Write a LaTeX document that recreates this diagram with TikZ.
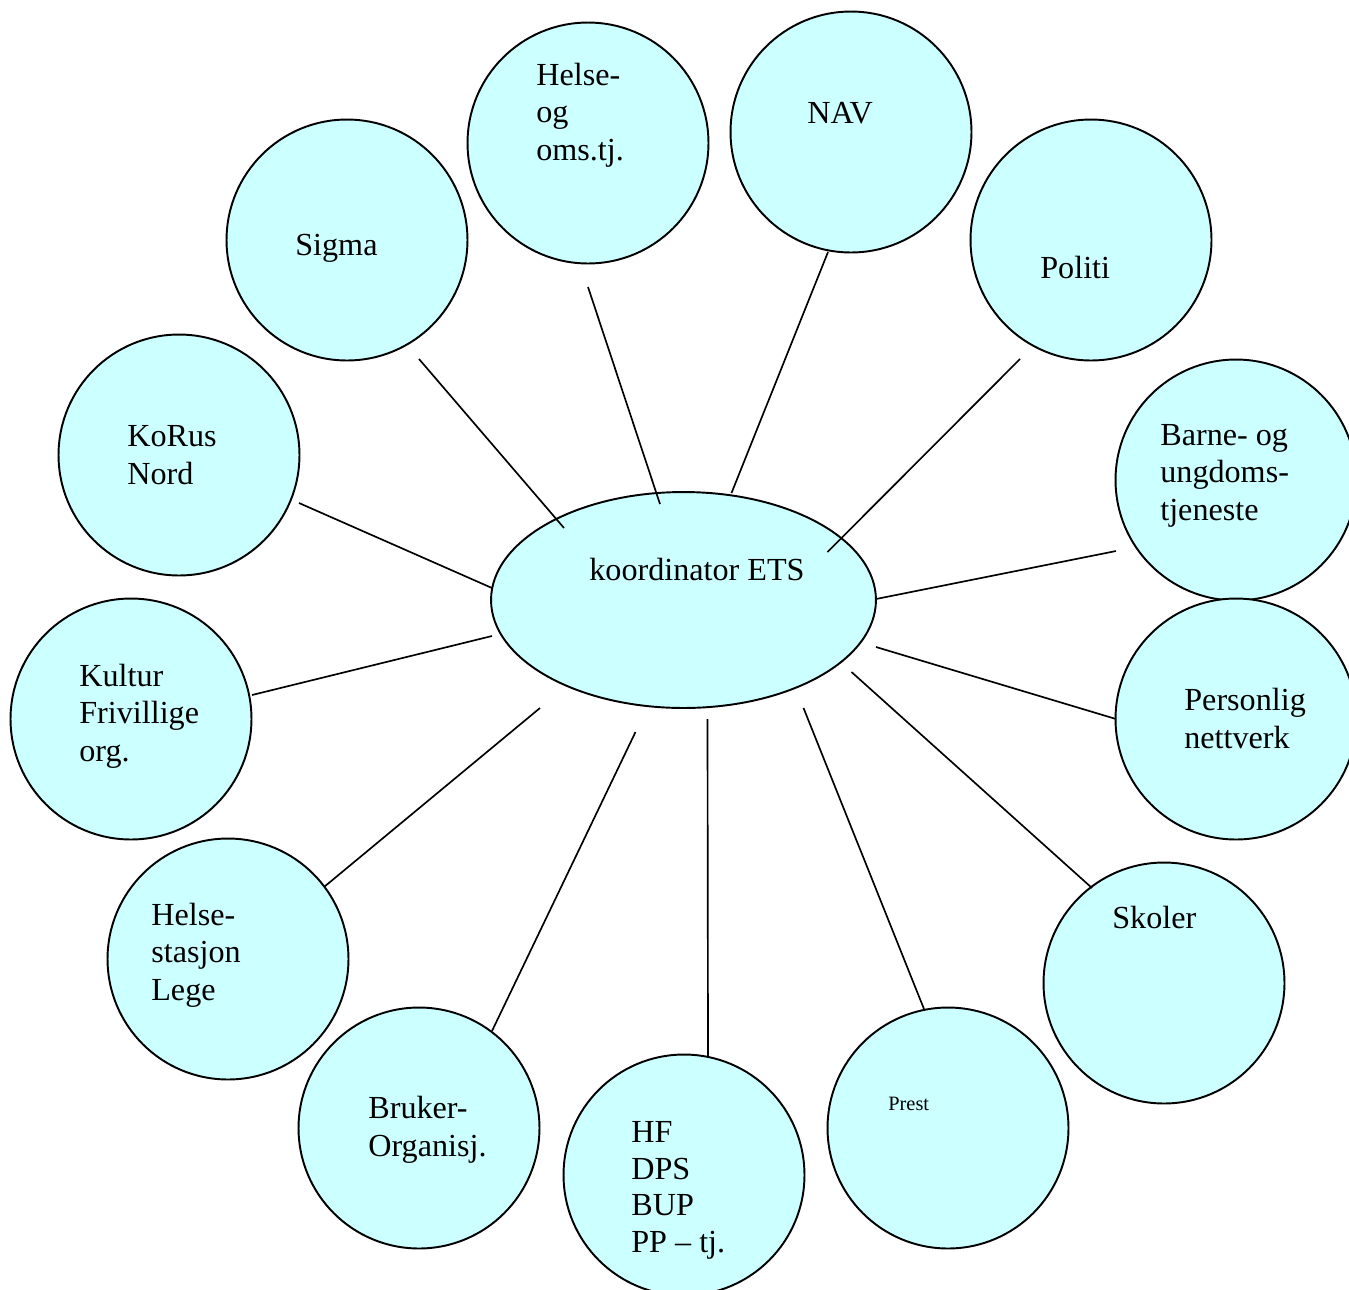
\documentclass[tikz,border=0pt]{standalone}
\usepackage{fontspec}
\setmainfont{Liberation Serif}
\usetikzlibrary{calc,shapes.geometric}
\definecolor{bubblefill}{HTML}{CCFFFF}

\begin{document}
\begin{tikzpicture}[
    x=0.02cm, y=-0.02cm,
    partner/.style={
        circle,
        minimum size=4.82cm,
        inner sep=0pt,
        draw=black,
        line width=1.1pt,
        fill=bubblefill
    },
    hub/.style={
        ellipse,
        minimum width=7.7cm,
        minimum height=4.32cm,
        inner sep=0pt,
        draw=black,
        line width=1.1pt,
        fill=bubblefill
    },
    txt/.style={
        anchor=base west,
        align=left,
        inner sep=0pt,
        font=\fontsize{18.3pt}{21.2pt}\selectfont
    },
    link/.style={line width=0.95pt}
]

\clip (0,0) rectangle (1349,1289);

% Centre
\node[hub] (koord) at (683.5,600) {};
\node[txt] (koord-t) at (589,580) {koordinator ETS};

% Partners, clockwise from top left
\node[partner] (sigma) at (347,240) {};
\node[partner] (helse) at (588,143) {};
\node[partner] (nav) at (851,132) {};
\node[partner] (politi) at (1091,240) {};
\node[partner] (barne) at (1236,480) {};
\node[partner] (personlig) at (1236,719) {};
\node[partner] (skoler) at (1164,983) {};
\node[partner] (prest) at (948,1128) {};
\node[partner] (hf) at (684,1175) {};
\node[partner] (bruker) at (419,1128) {};
\node[partner] (stasjon) at (228,959) {};
\node[partner] (kultur) at (131,719) {};
\node[partner] (korus) at (179,455) {};

% Labels (placed at the baseline of their last line)
\node[txt] (sigma-t) at (295,255) {Sigma};
\node[txt] (helse-t) at (536,160) {Helse-\\og\\oms.tj.};
\node[txt] (nav-t) at (807,123) {NAV};
\node[txt] (politi-t) at (1040,278) {Politi};
\node[txt] (barne-t) at (1160,520) {Barne- og\\ungdoms-\\tjeneste};
\node[txt] (personlig-t) at (1184,748) {Personlig\\nettverk};
\node[txt] (skoler-t) at (1112,928) {Skoler};
\node[txt, font=\fontsize{11.6pt}{14pt}\selectfont] (prest-t) at (888,1110) {Prest};
\node[txt, font=\fontsize{18.3pt}{20.7pt}\selectfont] (hf-t) at (631,1252) {HF\\DPS\\BUP\\PP -- tj.};
\node[txt] (bruker-t) at (368,1156) {Bruker-\\Organisj.};
\node[txt] (stasjon-t) at (151,1000) {Helse-\\stasjon\\Lege};
\node[txt] (kultur-t) at (79,761) {Kultur\\Frivillige\\org.};
\node[txt] (korus-t) at (127,484) {KoRus\\Nord};

% Spokes
\draw[link] ($(sigma)+(72,119)$) -- ($(koord)+(-119.5,-72)$);
\draw[link] ($(helse)+(0,144)$) -- ($(koord)+(-23.5,-96)$);
\draw[link] ($(nav)+(-23,120)$) -- ($(koord)+(48,-107)$);
\draw[link] ($(politi)+(-71,119)$) -- ($(koord)+(144,-48)$);
\draw[link] ($(barne)+(-120,71)$) -- ($(koord)+(192.5,-1)$);
\draw[link] ($(personlig)+(-120,0)$) -- ($(koord)+(192.5,47)$);
\draw[link] ($(skoler)+(-72,-95)$) -- ($(koord)+(168,72)$);
\draw[link] ($(prest)+(-24,-119)$) -- ($(koord)+(120,108)$);
\draw[link] ($(hf)+(24,-119)$) -- ($(koord)+(24,119)$);
\draw[link] ($(bruker)+(73,-97)$) -- ($(koord)+(-48,132)$);
\draw[link] ($(stasjon)+(96,-72)$) -- ($(koord)+(-143.5,108)$);
\draw[link] ($(kultur)+(121,-24)$) -- ($(koord)+(-191.5,36)$);
\draw[link] ($(korus)+(120,48)$) -- ($(koord)+(-191.5,-12)$);

\end{tikzpicture}
\end{document}
